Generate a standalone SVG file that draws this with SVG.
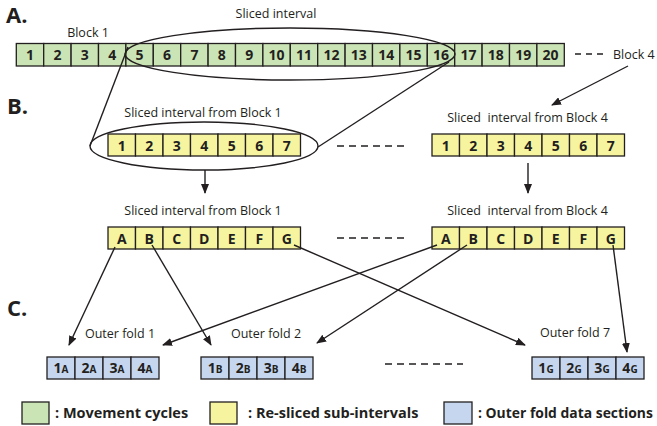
<svg xmlns="http://www.w3.org/2000/svg" width="657" height="426" viewBox="0 0 657 426">
<style>
text{font-family:"Open Sans","Liberation Sans",sans-serif;fill:#231f20}
.lbl{font-size:12.5px}
.hd{font-size:22px;font-weight:bold}
.num{font-size:14px;font-weight:bold;text-anchor:middle}
.sub{font-size:10px}
.leg{font-size:14.5px;font-weight:bold}
.g{fill:#cbe4b6;stroke:#231f20;stroke-width:1.3}
.y{fill:#f6f49e;stroke:#231f20;stroke-width:1.3}
.b{fill:#c6d6ef;stroke:#231f20;stroke-width:1.3}
.ln{stroke:#231f20;stroke-width:1.4;fill:none}
.ar{stroke:#231f20;stroke-width:1.4;fill:none;marker-end:url(#ah)}
.dash{stroke:#231f20;stroke-width:1.4;stroke-dasharray:7 5}
</style>
<defs>
<marker id="ah" markerUnits="userSpaceOnUse" markerWidth="10" markerHeight="8" refX="9" refY="4" orient="auto">
<path d="M0,0 L10,4 L0,8 z" fill="#231f20"/>
</marker>
</defs>

<text class="hd" x="6" y="23">A.</text>
<text class="hd" x="7" y="114">B.</text>
<text class="hd" x="7" y="316">C.</text>

<g id="rowA">
<text class="lbl" x="88" y="36.5" text-anchor="middle">Block 1</text>
<text class="lbl" x="276" y="18" text-anchor="middle">Sliced interval</text>
<g class="g">
<rect x="16.3" y="43.5" width="27.4" height="22.5"/><rect x="43.7" y="43.5" width="27.4" height="22.5"/><rect x="71.1" y="43.5" width="27.4" height="22.5"/><rect x="98.5" y="43.5" width="27.4" height="22.5"/><rect x="125.9" y="43.5" width="27.4" height="22.5"/><rect x="153.3" y="43.5" width="27.4" height="22.5"/><rect x="180.7" y="43.5" width="27.4" height="22.5"/><rect x="208.1" y="43.5" width="27.4" height="22.5"/><rect x="235.5" y="43.5" width="27.4" height="22.5"/><rect x="262.9" y="43.5" width="27.4" height="22.5"/><rect x="290.3" y="43.5" width="27.4" height="22.5"/><rect x="317.7" y="43.5" width="27.4" height="22.5"/><rect x="345.1" y="43.5" width="27.4" height="22.5"/><rect x="372.5" y="43.5" width="27.4" height="22.5"/><rect x="399.9" y="43.5" width="27.4" height="22.5"/><rect x="427.3" y="43.5" width="27.4" height="22.5"/><rect x="454.7" y="43.5" width="27.4" height="22.5"/><rect x="482.1" y="43.5" width="27.4" height="22.5"/><rect x="509.5" y="43.5" width="27.4" height="22.5"/><rect x="536.9" y="43.5" width="27.4" height="22.5"/>
</g>
<text class="num" y="60"><tspan x="30">1</tspan><tspan x="57.4">2</tspan><tspan x="84.8">3</tspan><tspan x="112.2">4</tspan><tspan x="139.6">5</tspan><tspan x="167">6</tspan><tspan x="194.4">7</tspan><tspan x="221.8">8</tspan><tspan x="249.2">9</tspan><tspan x="276.6">10</tspan><tspan x="304">11</tspan><tspan x="331.4">12</tspan><tspan x="358.8">13</tspan><tspan x="386.2">14</tspan><tspan x="413.6">15</tspan><tspan x="441">16</tspan><tspan x="468.4">17</tspan><tspan x="495.8">18</tspan><tspan x="523.2">19</tspan><tspan x="550.6">20</tspan></text>
<ellipse class="ln" cx="290" cy="54" rx="165" ry="26"/>
<line class="dash" x1="575" y1="54" x2="604" y2="54" style="stroke-dasharray:6 5"/>
<text class="lbl" x="613" y="59">Block 4</text>
</g>

<g id="rowB1">
<text class="lbl" x="203" y="116.5" text-anchor="middle">Sliced interval from Block 1</text>
<g class="y">
<rect x="108" y="134" width="27.5" height="22"/><rect x="135.5" y="134" width="27.5" height="22"/><rect x="163" y="134" width="27.5" height="22"/><rect x="190.5" y="134" width="27.5" height="22"/><rect x="218" y="134" width="27.5" height="22"/><rect x="245.5" y="134" width="27.5" height="22"/><rect x="273" y="134" width="27.5" height="22"/>
</g>
<text class="num" y="150.5"><tspan x="121.75">1</tspan><tspan x="149.25">2</tspan><tspan x="176.75">3</tspan><tspan x="204.25">4</tspan><tspan x="231.75">5</tspan><tspan x="259.25">6</tspan><tspan x="286.75">7</tspan></text>
<ellipse class="ln" cx="204" cy="146" rx="114" ry="24"/>
</g>

<g id="rowB4">
<text class="lbl" x="527.5" y="121.5" text-anchor="middle" style="white-space:pre" xml:space="preserve">Sliced  interval from Block 4</text>
<g class="y">
<rect x="432" y="134" width="27.5" height="22"/><rect x="459.5" y="134" width="27.5" height="22"/><rect x="487" y="134" width="27.5" height="22"/><rect x="514.5" y="134" width="27.5" height="22"/><rect x="542" y="134" width="27.5" height="22"/><rect x="569.5" y="134" width="27.5" height="22"/><rect x="597" y="134" width="27.5" height="22"/>
</g>
<text class="num" y="150.5"><tspan x="445.75">1</tspan><tspan x="473.25">2</tspan><tspan x="500.75">3</tspan><tspan x="528.25">4</tspan><tspan x="555.75">5</tspan><tspan x="583.25">6</tspan><tspan x="610.75">7</tspan></text>
</g>

<g id="rowB2left">
<text class="lbl" x="203" y="215" text-anchor="middle">Sliced interval from Block 1</text>
<g class="y">
<rect x="108" y="227" width="27.5" height="22"/><rect x="135.5" y="227" width="27.5" height="22"/><rect x="163" y="227" width="27.5" height="22"/><rect x="190.5" y="227" width="27.5" height="22"/><rect x="218" y="227" width="27.5" height="22"/><rect x="245.5" y="227" width="27.5" height="22"/><rect x="273" y="227" width="27.5" height="22"/>
</g>
<text class="num" y="243.5"><tspan x="121.75">A</tspan><tspan x="149.25">B</tspan><tspan x="176.75">C</tspan><tspan x="204.25">D</tspan><tspan x="231.75">E</tspan><tspan x="259.25">F</tspan><tspan x="286.75">G</tspan></text>
</g>

<g id="rowB2right">
<text class="lbl" x="527.5" y="215" text-anchor="middle" style="white-space:pre" xml:space="preserve">Sliced  interval from Block 4</text>
<g class="y">
<rect x="432" y="227" width="27.5" height="22"/><rect x="459.5" y="227" width="27.5" height="22"/><rect x="487" y="227" width="27.5" height="22"/><rect x="514.5" y="227" width="27.5" height="22"/><rect x="542" y="227" width="27.5" height="22"/><rect x="569.5" y="227" width="27.5" height="22"/><rect x="597" y="227" width="27.5" height="22"/>
</g>
<text class="num" y="243.5"><tspan x="445.75">A</tspan><tspan x="473.25">B</tspan><tspan x="500.75">C</tspan><tspan x="528.25">D</tspan><tspan x="555.75">E</tspan><tspan x="583.25">F</tspan><tspan x="610.75">G</tspan></text>
</g>

<g id="fold1">
<text class="lbl" x="120" y="338" text-anchor="middle">Outer fold 1</text>
<g class="b"><rect x="47" y="357" width="28" height="22"/><rect x="75" y="357" width="28" height="22"/><rect x="103" y="357" width="28" height="22"/><rect x="131" y="357" width="28" height="22"/></g>
<text class="num" y="373"><tspan x="61">1<tspan class="sub">A</tspan></tspan><tspan x="89">2<tspan class="sub">A</tspan></tspan><tspan x="117">3<tspan class="sub">A</tspan></tspan><tspan x="145">4<tspan class="sub">A</tspan></tspan></text>
</g>

<g id="fold2">
<text class="lbl" x="266" y="338" text-anchor="middle">Outer fold 2</text>
<g class="b"><rect x="201" y="357" width="28" height="22"/><rect x="229" y="357" width="28" height="22"/><rect x="257" y="357" width="28" height="22"/><rect x="285" y="357" width="28" height="22"/></g>
<text class="num" y="373"><tspan x="215">1<tspan class="sub">B</tspan></tspan><tspan x="243">2<tspan class="sub">B</tspan></tspan><tspan x="271">3<tspan class="sub">B</tspan></tspan><tspan x="299">4<tspan class="sub">B</tspan></tspan></text>
</g>

<g id="fold7">
<text class="lbl" x="575" y="337" text-anchor="middle">Outer fold 7</text>
<g class="b"><rect x="532" y="357" width="28" height="22"/><rect x="560" y="357" width="28" height="22"/><rect x="588" y="357" width="28" height="22"/><rect x="616" y="357" width="28" height="22"/></g>
<text class="num" y="373"><tspan x="546">1<tspan class="sub">G</tspan></tspan><tspan x="574">2<tspan class="sub">G</tspan></tspan><tspan x="602">3<tspan class="sub">G</tspan></tspan><tspan x="630">4<tspan class="sub">G</tspan></tspan></text>
</g>

<g id="connectors">
<line class="ln" x1="128" y1="47" x2="90" y2="146"/>
<line class="ln" x1="449" y1="62" x2="318" y2="147"/>
<line class="ar" x1="628" y1="66" x2="552" y2="105"/>
<line class="ar" x1="205" y1="170" x2="205" y2="193"/>
<line class="ar" x1="528" y1="163" x2="528" y2="193"/>
<line class="dash" x1="337" y1="146" x2="409" y2="146"/>
<line class="dash" x1="337" y1="238" x2="409" y2="238"/>
<line class="dash" x1="385" y1="364" x2="463" y2="364"/>
<line class="ar" x1="115" y1="247" x2="69" y2="345"/>
<line class="ar" x1="152" y1="245" x2="211" y2="345"/>
<line class="ar" x1="294" y1="245" x2="525" y2="345"/>
<line class="ar" x1="437" y1="245" x2="163" y2="345"/>
<line class="ar" x1="467" y1="245" x2="317" y2="343"/>
<line class="ar" x1="613" y1="245" x2="627" y2="352"/>
</g>

<g id="legend">
<rect class="g" x="22" y="402" width="27" height="22"/>
<text class="leg" x="55" y="418">: Movement cycles</text>
<rect class="y" x="210" y="402" width="27" height="22"/>
<text class="leg" x="248" y="418">: Re-sliced sub-intervals</text>
<rect class="b" x="444" y="402" width="28" height="22"/>
<text class="leg" x="478" y="418" style="font-size:13.9px">: Outer fold data sections</text>
</g>
</svg>
